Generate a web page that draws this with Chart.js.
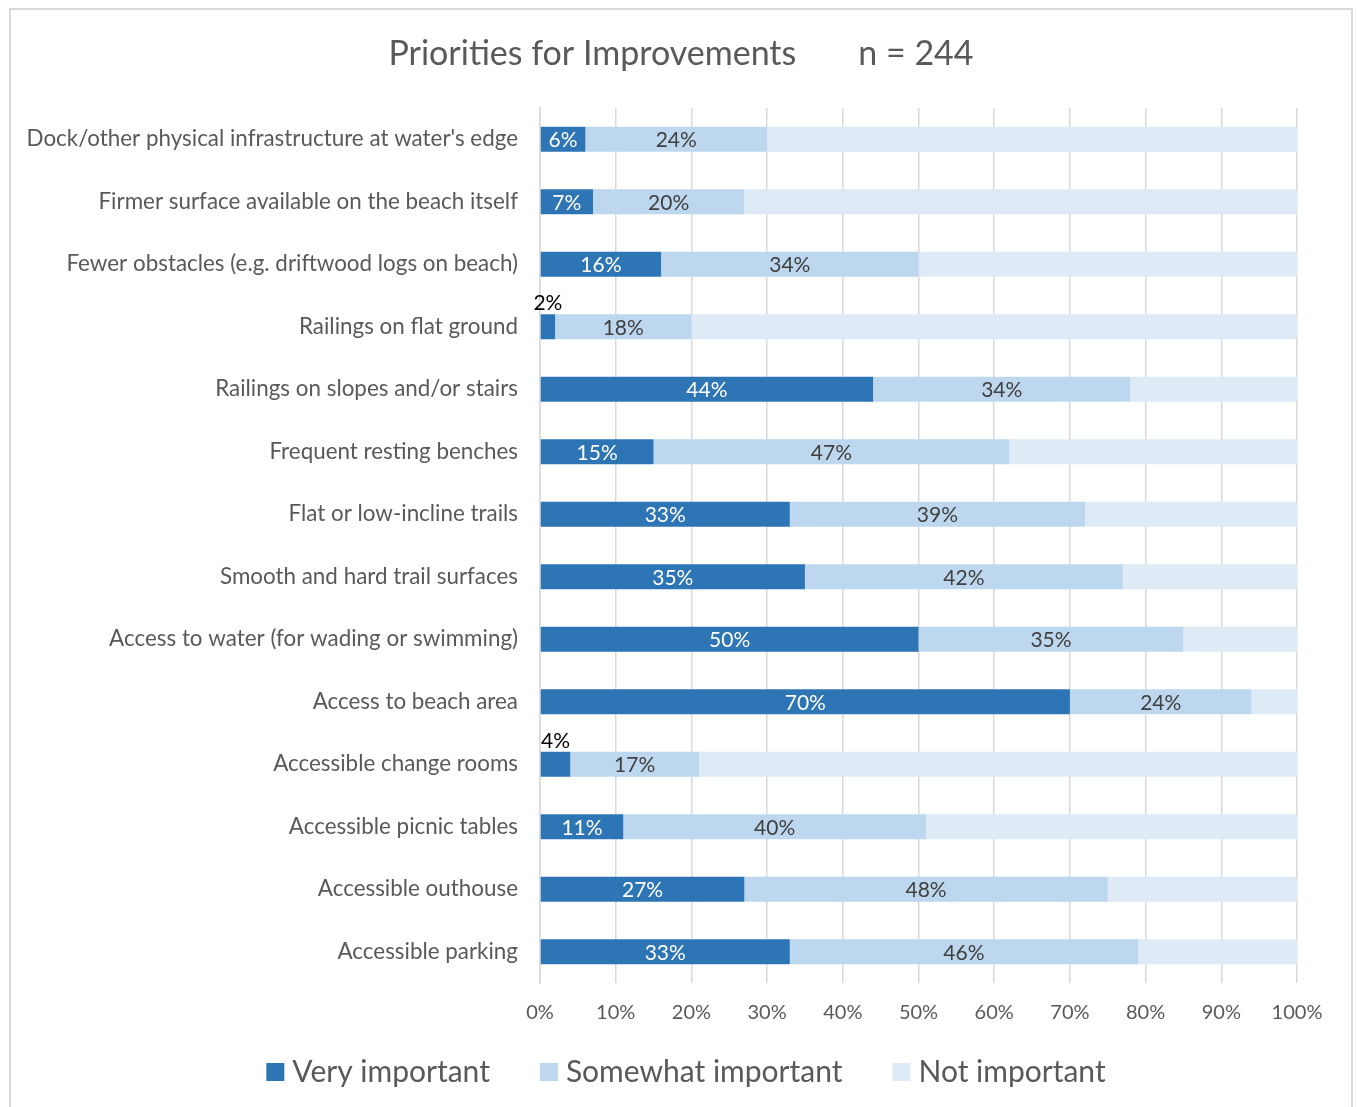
<!DOCTYPE html>
<html>
<head>
<meta charset="utf-8">
<title>Priorities for Improvements</title>
<script src="https://cdn.jsdelivr.net/npm/chart.js@4.4.1/dist/chart.umd.min.js"></script>
<style>
  html, body { margin: 0; background: #fff; overflow: hidden; }
  #frame {
    position: absolute; left: 9px; top: 8px;
    width: 1344px; height: 1130px;
    border: 2px solid #D9D9D9; box-sizing: border-box;
  }
  #wrap { position: absolute; left: 0; top: 0; width: 1357px; height: 1107px; }
</style>
</head>
<body>
<div id="frame"></div>
<div id="wrap"><canvas id="chart"></canvas></div>
<script>

const categories = [
  "Dock/other physical infrastructure at water's edge",
  "Firmer surface available on the beach itself",
  "Fewer obstacles (e.g. driftwood logs on beach)",
  "Railings on flat ground",
  "Railings on slopes and/or stairs",
  "Frequent resting benches",
  "Flat or low-incline trails",
  "Smooth and hard trail surfaces",
  "Access to water (for wading or swimming)",
  "Access to beach area",
  "Accessible change rooms",
  "Accessible picnic tables",
  "Accessible outhouse",
  "Accessible parking"
];

const veryImportant     = [6, 7, 16, 2, 44, 15, 33, 35, 50, 70, 4, 11, 27, 33];
const somewhatImportant = [24, 20, 34, 18, 34, 47, 39, 42, 35, 24, 17, 40, 48, 46];
const notImportant      = [70, 73, 50, 80, 22, 38, 28, 23, 15, 6, 79, 49, 25, 21];

const titleText = "Priorities for Improvements";
const sampleText = "n = 244";

const FONT = 'Lato, "Open Sans", sans-serif';
const GREY = '#595959';

Chart.defaults.font.family = FONT;
Chart.defaults.color = GREY;

/* value labels on the first two series */
const barLabels = {
  id: 'barLabels',
  afterDatasetsDraw(chart) {
    const ctx = chart.ctx;
    ctx.save();
    ctx.font = '21px ' + FONT;
    ctx.textAlign = 'center';
    ctx.textBaseline = 'middle';
    [0, 1].forEach(di => {
      const meta = chart.getDatasetMeta(di);
      meta.data.forEach((bar, i) => {
        const text = chart.data.datasets[di].data[i] + '%';
        const w = Math.abs(bar.x - bar.base);
        const cx = (bar.x + bar.base) / 2;
        if (ctx.measureText(text).width + 8 > w) {
          // too narrow, put it above the bar
          ctx.fillStyle = '#000';
          ctx.fillText(text, cx, bar.y - bar.height / 2 - 11);
        } else {
          ctx.fillStyle = di === 0 ? '#fff' : '#404040';
          ctx.fillText(text, cx, bar.y + 1);
        }
      });
    });
    ctx.restore();
  }
};

/* title and legend */
const decorations = {
  id: 'decorations',
  afterDraw(chart) {
    const ctx = chart.ctx;
    ctx.save();
    ctx.fillStyle = GREY;
    ctx.textBaseline = 'middle';

    ctx.font = '34px ' + FONT;
    const gap = 62;
    const w1 = ctx.measureText(titleText).width;
    const w2 = ctx.measureText(sampleText).width;
    let x = 681 - (w1 + gap + w2) / 2;
    ctx.textAlign = 'left';
    ctx.fillText(titleText, x, 54);
    ctx.fillText(sampleText, x + w1 + gap, 54);

    ctx.font = '30px ' + FONT;
    const items = chart.data.datasets.map(ds => ({
      label: ds.label, color: ds.backgroundColor, w: ctx.measureText(ds.label).width
    }));
    const box = 18, pad = 8, spacing = 50;
    const total = items.reduce((s, it) => s + box + pad + it.w, 0) + spacing * (items.length - 1);
    x = 686 - total / 2;
    items.forEach(it => {
      ctx.fillStyle = it.color;
      ctx.fillRect(x, 1063, box, box);
      ctx.fillStyle = GREY;
      ctx.fillText(it.label, x + box + pad, 1072);
      x += box + pad + it.w + spacing;
    });
    ctx.restore();
  }
};

new Chart(document.getElementById('chart'), {
  type: 'bar',
  data: {
    labels: categories,
    datasets: [
      { label: 'Very important', data: veryImportant, backgroundColor: '#2E75B6' },
      { label: 'Somewhat important', data: somewhatImportant, backgroundColor: '#BDD7EE' },
      { label: 'Not important', data: notImportant, backgroundColor: '#DEEBF7' }
    ]
  },
  options: {
    indexAxis: 'y',
    responsive: true,
    maintainAspectRatio: false,
    animation: false,
    layout: { padding: { left: 0, right: 60, top: 108, bottom: 0 } },
    datasets: {
      bar: { categoryPercentage: 1, barPercentage: 0.4 }
    },
    plugins: {
      legend: { display: false },
      title: { display: false },
      tooltip: { enabled: false }
    },
    scales: {
      x: {
        stacked: true,
        min: 0,
        max: 100,
        ticks: {
          stepSize: 10,
          padding: 18,
          color: GREY,
          font: { size: 20 },
          callback: v => v + '%'
        },
        grid: { color: '#D9D9D9', lineWidth: 1.5, drawTicks: false },
        border: { display: false },
        afterFit(scale) { scale.height = 124; }
      },
      y: {
        stacked: true,
        ticks: { padding: 22, color: GREY, font: { size: 22.4 } },
        grid: { display: false, drawTicks: false },
        border: { display: true, color: '#D9D9D9', width: 1.5 },
        afterFit(scale) { scale.width = 540; }
      }
    }
  },
  plugins: [barLabels, decorations]
});
</script>
</body>
</html>
